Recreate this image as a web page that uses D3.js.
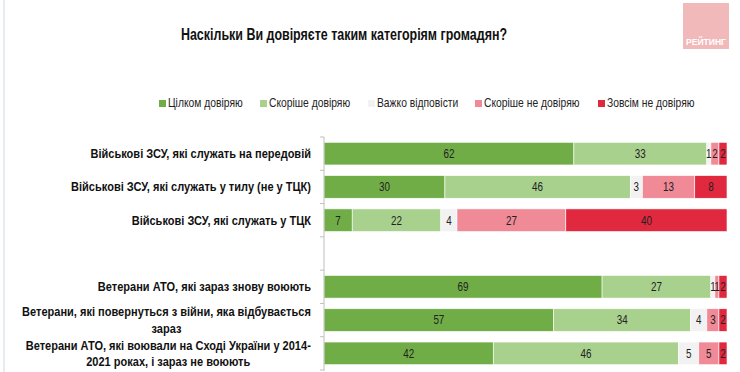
<!DOCTYPE html>
<html lang="uk">
<head>
<meta charset="UTF-8">
<title>Довіра до категорій громадян</title>
<script src="https://d3js.org/d3.v7.min.js"></script>
<style>
  body { margin: 0; background: #fff; }
  text { font-family: "Liberation Sans Narrow", "Arial Narrow", "Liberation Sans", Arial, sans-serif; }
</style>
</head>
<body>
<script>
const WIDTH = 740, HEIGHT = 372;

// categories, a blank row separates the two groups
const categories = [
  "Військові ЗСУ, які служать на передовій",
  "Військові ЗСУ, які служать у тилу (не у ТЦК)",
  "Військові ЗСУ, які служать у ТЦК",
  "",
  "Ветерани АТО, які зараз знову воюють",
  "Ветерани, які повернуться з війни, яка відбувається\nзараз",
  "Ветерани АТО, які воювали на Сході України у 2014-\n2021 роках, і зараз не воюють"
];
const seriesNames = ["Цілком довіряю", "Скоріше довіряю", "Важко відповісти", "Скоріше не довіряю", "Зовсім не довіряю"];
const fullyTrust   = [62, 30, 7, null, 69, 57, 42];
const ratherTrust  = [33, 46, 22, null, 27, 34, 46];
const hardToSay    = [1, 3, 4, null, 1, 4, 5];
const ratherNot    = [2, 13, 27, null, 1, 3, 5];
const notAtAll     = [2, 8, 40, null, 2, 2, 2];
const seriesColors = ["#70ad47", "#a9d18e", "#f2f2f2", "#ef8a96", "#e0283f"];

const seriesValues = [fullyTrust, ratherTrust, hardToSay, ratherNot, notAtAll];

// the source uses a condensed font; squeeze the regular one around its anchor x
function squeeze(sel, ax, sx) {
  sel.attr("transform", `translate(${ax},0) scale(${sx},1) translate(${-ax},0)`);
  return sel;
}

const svg = d3.select("body").append("svg").attr("width", WIDTH).attr("height", HEIGHT);

// faint page edge
svg.append("line").attr("x1", 4).attr("x2", 4).attr("y1", 0).attr("y2", HEIGHT)
  .attr("stroke", "#e6ecf4").attr("stroke-width", 2);

// title
squeeze(svg.append("text").attr("x", 344).attr("y", 40).attr("text-anchor", "middle")
  .style("font-weight", "bold").style("font-size", "16.5px").style("fill", "#111")
  .text("Наскільки Ви довіряєте таким категоріям громадян?"), 344, 0.755);

// logo
svg.append("rect").attr("x", 683).attr("y", 3).attr("width", 46).attr("height", 46).attr("fill", "#f2b9ba");
squeeze(svg.append("text").attr("x", 706).attr("y", 45.5).attr("text-anchor", "middle")
  .style("font-weight", "bold").style("font-size", "9.5px").style("fill", "#fff")
  .text("РЕЙТИНГ"), 706, 0.9);

// legend
const legendX = [159, 260, 368, 475, 598];
const legend = svg.append("g");
seriesNames.forEach((name, i) => {
  legend.append("rect").attr("x", legendX[i]).attr("y", 100).attr("width", 7).attr("height", 7)
    .attr("fill", seriesColors[i]);
  squeeze(legend.append("text").attr("x", legendX[i] + 9).attr("y", 107.5)
    .style("font-size", "12px").style("fill", "#222").text(name), legendX[i] + 9, 0.86);
});

// scales
const x = d3.scaleLinear().domain([0, 100]).range([324, 727]);
const y = d3.scaleBand().domain(d3.range(categories.length)).range([137, 370])
  .paddingInner(0.32).paddingOuter(0.16);

// stacked data
const rows = categories.map((c, i) => {
  let acc = 0;
  return seriesValues.map((s, k) => {
    const v = s[i];
    const seg = { row: i, k: k, v: v, x0: acc, x1: acc + (v || 0) };
    acc += v || 0;
    return seg;
  });
});

const bars = svg.append("g");
rows.forEach(segs => {
  segs.filter(d => d.v != null).forEach(d => {
    bars.append("rect")
      .attr("x", x(d.x0)).attr("y", y(d.row))
      .attr("width", x(d.x1) - x(d.x0)).attr("height", y.bandwidth())
      .attr("fill", seriesColors[d.k])
      .attr("stroke", "#fff").attr("stroke-width", 0.6);
  });
});
rows.forEach(segs => {
  segs.filter(d => d.v != null).forEach(d => {
    const cx = (x(d.x0) + x(d.x1)) / 2;
    squeeze(bars.append("text")
      .attr("x", cx).attr("y", y(d.row) + y.bandwidth() / 2 + 4.3)
      .attr("text-anchor", "middle")
      .style("font-size", "12px").style("fill", "#222")
      .text(d.v), cx, 0.82);
  });
});

// axis line with ticks at band boundaries
const axis = svg.append("g");
axis.append("line").attr("x1", 324).attr("x2", 324).attr("y1", 137).attr("y2", 371)
  .attr("stroke", "#bfbfbf");
const bounds = d3.range(categories.length).map(i => y(i) - y.step() * y.paddingInner() / 2);
bounds.push(y.range()[1]);
bounds.forEach(b => {
  axis.append("line").attr("x1", 320).attr("x2", 324).attr("y1", b).attr("y2", b)
    .attr("stroke", "#bfbfbf");
});

// category labels
const labels = svg.append("g");
categories.forEach((c, i) => {
  if (!c) return;
  const lines = c.split("\n");
  const cy = y(i) + y.bandwidth() / 2;
  const t = labels.append("text")
    .style("font-weight", "bold").style("font-size", "12px").style("fill", "#111");
  if (lines.length === 1) {
    t.attr("x", 311).attr("y", cy + 4.3).attr("text-anchor", "end").text(c);
  } else {
    lines.forEach((l, j) => {
      t.append("tspan").attr("y", cy + 4.3 - 8 + j * 16.5).text(l);
    });
    let maxW = 0;
    t.selectAll("tspan").each(function () { maxW = Math.max(maxW, this.getComputedTextLength()); });
    t.attr("text-anchor", "middle").selectAll("tspan").attr("x", 311 - maxW / 2);
  }
  // labels are anchored on the right edge of the text block
  squeeze(t, 311, 0.92);
});
</script>
</body>
</html>
